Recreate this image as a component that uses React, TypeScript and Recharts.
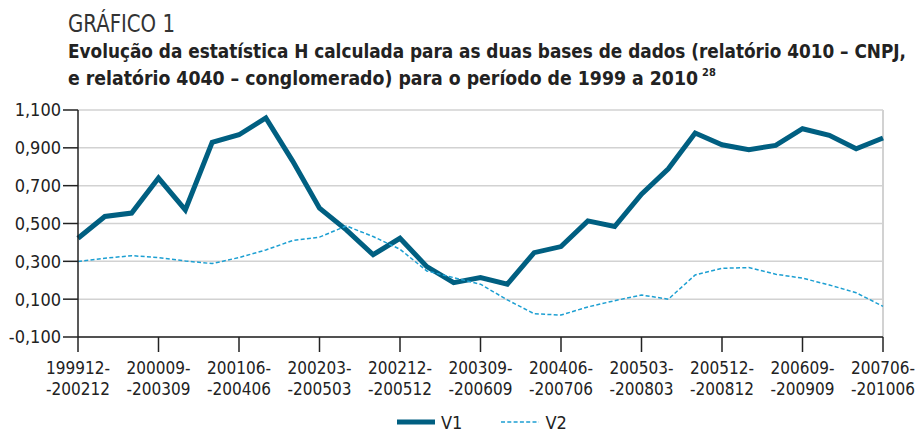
import React from 'react';
import { LineChart, Line, XAxis, YAxis, CartesianGrid, Legend, ReferenceLine } from 'recharts';

const periods = [
  '199912-200212', '200003-200303', '200006-200306', '200009-200309', '200012-200312',
  '200103-200403', '200106-200406', '200109-200409', '200112-200412', '200203-200503',
  '200206-200506', '200209-200509', '200212-200512', '200303-200603', '200306-200606',
  '200309-200609', '200312-200612', '200403-200703', '200406-200706', '200409-200709',
  '200412-200712', '200503-200803', '200506-200806', '200509-200809', '200512-200812',
  '200603-200903', '200606-200906', '200609-200909', '200612-200912', '200703-201003',
  '200706-201006',
];

const v1 = [
  0.422, 0.537, 0.555, 0.74, 0.572, 0.929, 0.969, 1.058, 0.83, 0.581,
  0.466, 0.335, 0.422, 0.272, 0.187, 0.214, 0.179, 0.346, 0.378, 0.514,
  0.484, 0.655, 0.789, 0.978, 0.916, 0.89, 0.913, 1.001, 0.966, 0.895, 0.952,
];

const v2 = [
  0.299, 0.316, 0.33, 0.32, 0.302, 0.288, 0.32, 0.36, 0.41, 0.428,
  0.487, 0.431, 0.364, 0.249, 0.214, 0.179, 0.096, 0.023, 0.016, 0.059,
  0.092, 0.122, 0.1, 0.228, 0.263, 0.267, 0.232, 0.211, 0.175, 0.134, 0.062,
];

const yTicks = [-0.1, 0.1, 0.3, 0.5, 0.7, 0.9, 1.1];

const data = periods.map((p, i) => ({ period: p, V1: v1[i], V2: v2[i] }));

const FONT = "'DejaVu Sans Condensed', 'DejaVu Sans', sans-serif";
const DARK = '#005f81';
const LIGHT = '#1c9fd2';

const fmt = (v: number) => v.toFixed(3).replace('.', ',');

const PeriodTick = (props: any) => {
  const { x, y, payload } = props;
  const s: string = payload.value;
  return (
    <text x={x} y={y} textAnchor="middle" fill="#222" fontSize={17} fontFamily={FONT}>
      <tspan x={x} dy={20}>{s.slice(0, 6) + '-'}</tspan>
      <tspan x={x} dy={21}>{'-' + s.slice(7)}</tspan>
    </text>
  );
};

const LegendBox = () => (
  <div style={{ display: 'flex', alignItems: 'center', height: 18, fontFamily: FONT, fontSize: 18, color: '#222', paddingLeft: 397 }}>
    <svg width={38} height={8} style={{ marginRight: 6 }}>
      <line x1={0} y1={4} x2={38} y2={4} stroke={DARK} strokeWidth={5} />
    </svg>
    <span style={{ marginRight: 39 }}>V1</span>
    <svg width={38} height={8} style={{ marginRight: 6 }}>
      <line x1={0} y1={4} x2={38} y2={4} stroke={LIGHT} strokeWidth={1.5} strokeDasharray="4 2.3" />
    </svg>
    <span>V2</span>
  </div>
);

export default function App() {
  return (
    <div style={{ position: 'absolute', left: 0, top: 0, width: 917, height: 431, background: '#fff' }}>
      <svg width={917} height={100} style={{ position: 'absolute', left: 0, top: 0 }}>
        <text x={68} y={32} fontFamily={FONT} fontSize={24} fill="#333" textLength={107} lengthAdjust="spacingAndGlyphs">
          GRÁFICO 1
        </text>
        <text x={68} y={58} fontFamily={FONT} fontSize={19} fontWeight="bold" fill="#222" textLength={838} lengthAdjust="spacingAndGlyphs">
          Evolução da estatística H calculada para as duas bases de dados (relatório 4010 – CNPJ,
        </text>
        <text x={68} y={85} fontFamily={FONT} fontSize={19} fontWeight="bold" fill="#222" textLength={630} lengthAdjust="spacingAndGlyphs">
          e relatório 4040 – conglomerado) para o período de 1999 a 2010
        </text>
        <text x={702} y={76} fontFamily={FONT} fontSize={11} fontWeight="bold" fill="#222">28</text>
      </svg>
      <div style={{ position: 'absolute', left: 0, top: 0 }}>
        <LineChart width={917} height={431} data={data} margin={{ top: 110, right: 34, left: 0, bottom: 0 }}>
          <CartesianGrid horizontal vertical={false} stroke="#d2d2d2" strokeWidth={1.5} />
          <ReferenceLine x={periods[periods.length - 1]} stroke="#d2d2d2" strokeWidth={2} />
          <XAxis
            dataKey="period"
            interval={2}
            height={76}
            tickSize={15}
            tickMargin={2}
            tick={<PeriodTick />}
            stroke="#222"
            strokeWidth={1.5}
          />
          <YAxis
            width={78}
            domain={[-0.1, 1.1]}
            ticks={yTicks}
            tickFormatter={fmt}
            tickSize={15}
            tickMargin={2}
            stroke="#222"
            strokeWidth={1.5}
            tick={{ fill: '#222', fontSize: 18, fontFamily: FONT }}
          />
          <Legend verticalAlign="bottom" content={<LegendBox />} />
          <Line type="linear" dataKey="V1" stroke={DARK} strokeWidth={5} dot={false} isAnimationActive={false} />
          <Line type="linear" dataKey="V2" stroke={LIGHT} strokeWidth={1.5} strokeDasharray="4 2.3" dot={false} isAnimationActive={false} />
        </LineChart>
      </div>
    </div>
  );
}
